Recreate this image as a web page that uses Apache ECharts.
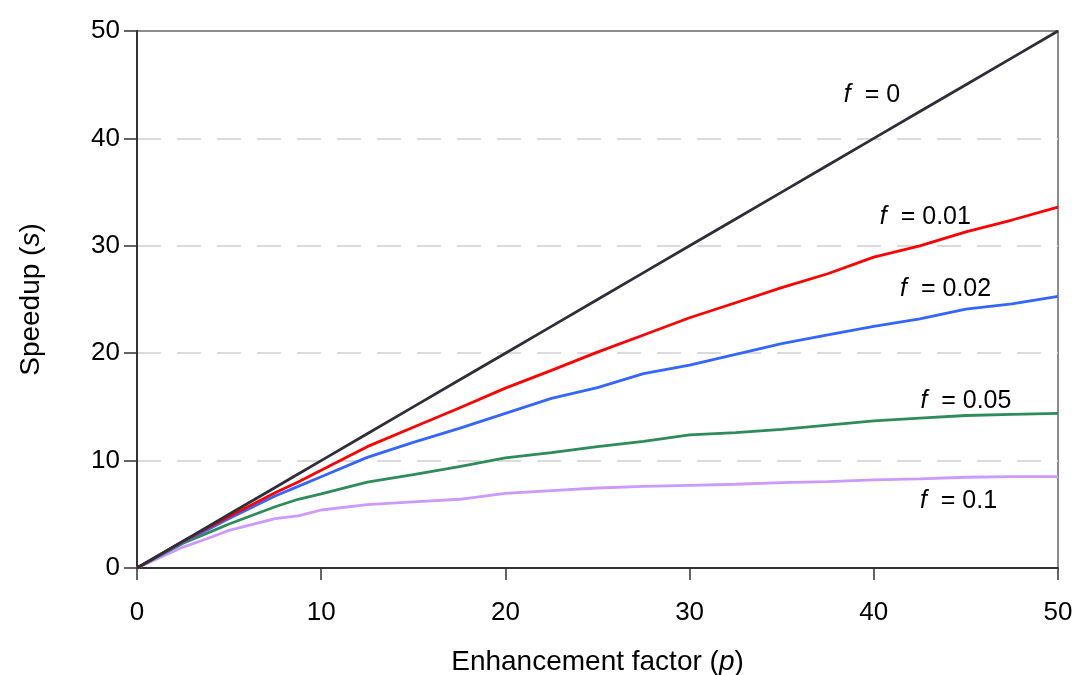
<!DOCTYPE html>
<html>
<head>
<meta charset="utf-8">
<script src="https://cdn.jsdelivr.net/npm/echarts@6/dist/echarts.min.js"></script>
<style>
  html, body { margin: 0; padding: 0; background: #fff; }
  #chart { width: 1077px; height: 675px; }
</style>
</head>
<body>
<div id="chart"></div>
<script>
// enhancement factor p (x)
var pValues = [0, 2.5, 3.75, 5, 7.5, 8.75, 10, 12.5, 15, 17.5, 20, 22.5, 25, 27.5, 30, 32.5, 35, 37.5, 40, 42.5, 45, 47.5, 50];

// speedup s
var sF0   = [0, 2.5, 3.75, 5, 7.5, 8.75, 10, 12.5, 15, 17.5, 20, 22.5, 25, 27.5, 30, 32.5, 35, 37.5, 40, 42.5, 45, 47.5, 50];
var sF001 = [0, 2.5, 3.65, 4.8, 7.0, 8.0, 9.1, 11.3, 13.1, 14.9, 16.75, 18.4, 20.1, 21.7, 23.3, 24.7, 26.1, 27.4, 28.95, 30.0, 31.3, 32.4, 33.6];
var sF002 = [0, 2.45, 3.5, 4.6, 6.7, 7.6, 8.5, 10.3, 11.7, 13.0, 14.4, 15.8, 16.8, 18.1, 18.9, 19.9, 20.9, 21.7, 22.5, 23.2, 24.1, 24.6, 25.3];
var sF005 = [0, 2.3, 3.2, 4.1, 5.7, 6.4, 6.9, 8.0, 8.7, 9.45, 10.25, 10.75, 11.3, 11.8, 12.4, 12.6, 12.9, 13.3, 13.7, 13.95, 14.2, 14.3, 14.4];
var sF01  = [0, 1.95, 2.7, 3.5, 4.6, 4.85, 5.4, 5.9, 6.15, 6.4, 6.95, 7.2, 7.45, 7.6, 7.7, 7.8, 7.95, 8.05, 8.2, 8.3, 8.45, 8.5, 8.5];

var seriesNames  = ['0', '0.01', '0.02', '0.05', '0.1'];
var seriesValues = [sF0, sF001, sF002, sF005, sF01];
var seriesColors = ['#2e2e38', '#ff0000', '#3366ff', '#2e8b5a', '#cc99ff'];
// label anchors in data coords [p, s]
var labelAt = [[39.9, 44.0], [42.8, 32.7], [43.9, 26.0], [45.0, 15.5], [44.6, 6.2]];

var xTicks = [0, 10, 20, 30, 40, 50];
var yTicks = [0, 10, 20, 30, 40, 50];

var fontFam = '"Liberation Sans", Arial, sans-serif';

function pairs(vals) {
    return pValues.map(function (p, i) { return [p, vals[i]]; });
}

var series = seriesNames.map(function (name, i) {
    return {
        name: 'f = ' + name,
        type: 'line',
        data: pairs(seriesValues[i]),
        showSymbol: false,
        symbol: 'none',
        smooth: false,
        lineStyle: { color: seriesColors[i], width: 2.8 },
        itemStyle: { color: seriesColors[i] },
        z: 10 - i,
        markPoint: {
            symbol: 'circle',
            symbolSize: 0,
            silent: true,
            data: [{
                coord: labelAt[i],
                label: {
                    show: true,
                    position: 'inside',
                    formatter: '{i|f}  = ' + name,
                    color: '#000',
                    fontFamily: fontFam,
                    fontSize: 25,
                    rich: {
                        i: { fontStyle: 'italic', fontFamily: fontFam, fontSize: 25, color: '#000' }
                    }
                }
            }]
        }
    };
});

var chart = echarts.init(document.getElementById('chart'));
chart.setOption({
    animation: false,
    backgroundColor: '#fff',
    grid: {
        left: 137, right: 19, top: 31, bottom: 107,
        outerBoundsMode: 'none',
        containLabel: false,
        show: true,
        borderColor: '#8c8c8c',
        borderWidth: 2,
        backgroundColor: 'transparent'
    },
    xAxis: {
        type: 'value',
        min: xTicks[0],
        max: xTicks[xTicks.length - 1],
        interval: 10,
        name: 'Enhancement factor ({i|p})',
        nameLocation: 'middle',
        nameGap: 80,
        nameTextStyle: {
            fontFamily: fontFam, fontSize: 28, color: '#000',
            rich: { i: { fontStyle: 'italic', fontFamily: fontFam, fontSize: 28, color: '#000' } }
        },
        axisLine: { show: true, onZero: false, lineStyle: { color: '#333', width: 2 } },
        axisTick: { show: true, inside: false, length: 12, lineStyle: { color: '#333', width: 1.5 } },
        axisLabel: { margin: 32, fontFamily: fontFam, fontSize: 26, color: '#000' },
        splitLine: { show: false }
    },
    yAxis: {
        type: 'value',
        min: yTicks[0],
        max: yTicks[yTicks.length - 1],
        interval: 10,
        name: 'Speedup ({i|s})',
        nameLocation: 'middle',
        nameGap: 92,
        nameRotate: 90,
        nameTextStyle: {
            fontFamily: fontFam, fontSize: 28, color: '#000',
            rich: { i: { fontStyle: 'italic', fontFamily: fontFam, fontSize: 28, color: '#000' } }
        },
        axisLine: { show: true, onZero: false, lineStyle: { color: '#333', width: 2 } },
        axisTick: { show: true, inside: false, length: 13, lineStyle: { color: '#333', width: 1.5 } },
        axisLabel: { margin: 17, fontFamily: fontFam, fontSize: 26, color: '#000' },
        splitLine: {
            show: true, showMinLine: false, showMaxLine: false,
            lineStyle: { color: '#cfcfcf', width: 1.5, type: [24, 16] }
        }
    },
    series: series
});
</script>
</body>
</html>
